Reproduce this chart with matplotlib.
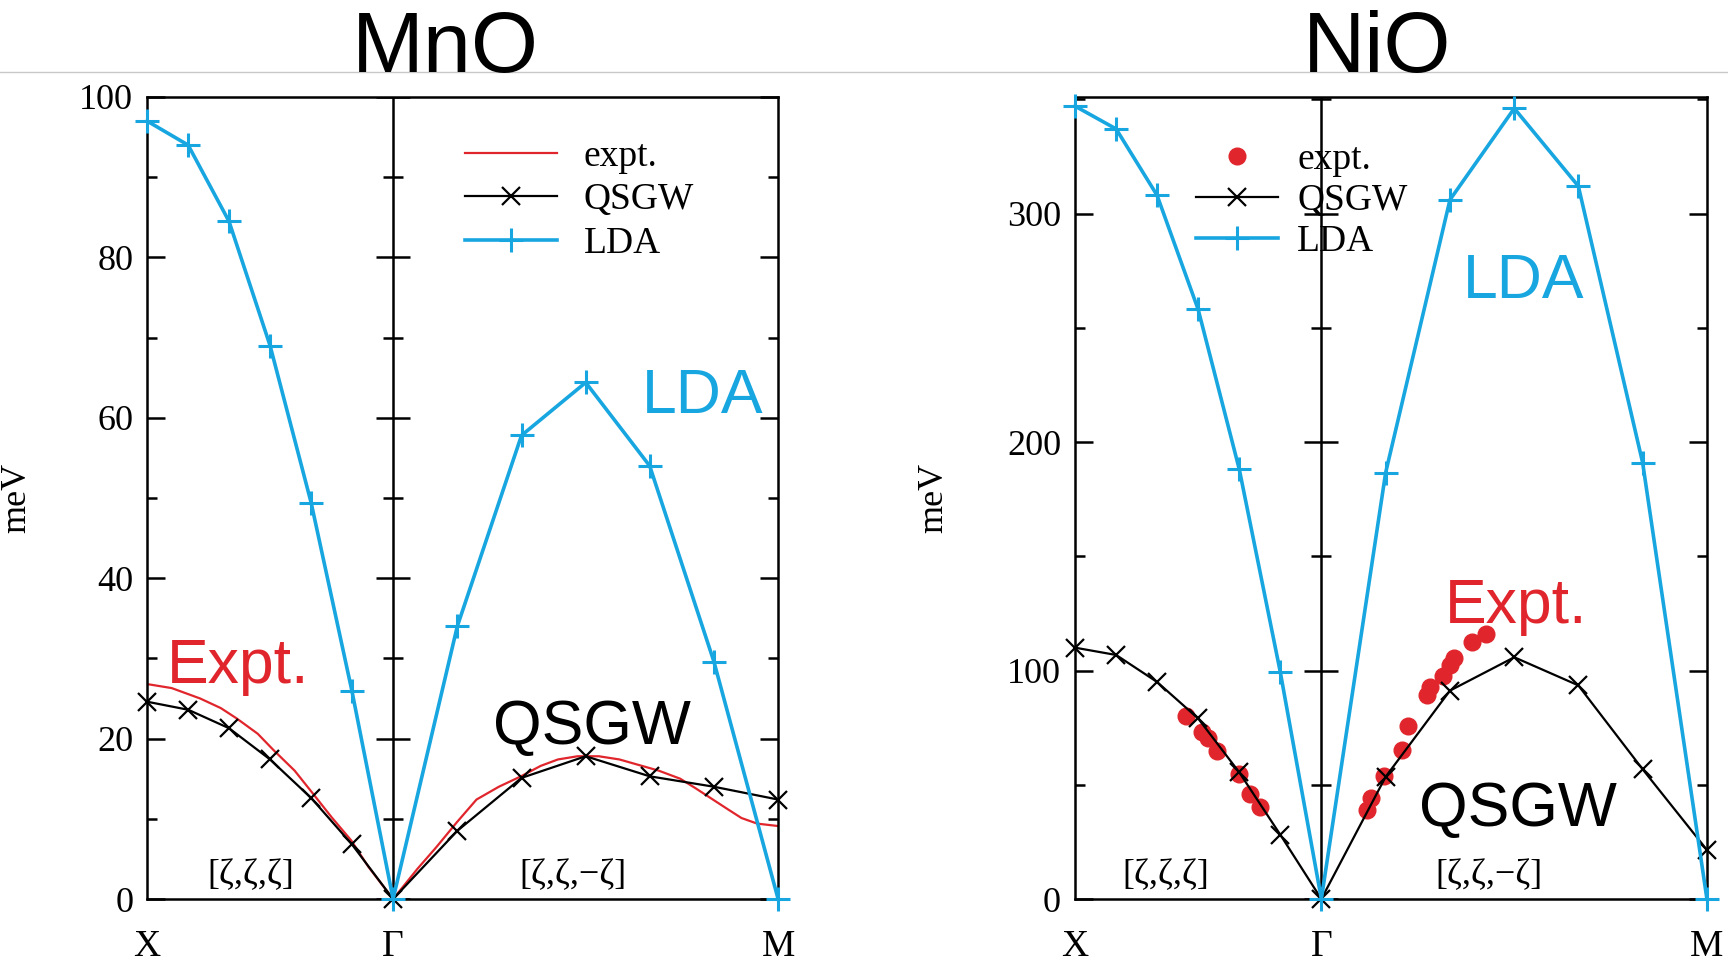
import numpy as np
import matplotlib
matplotlib.use('Agg')
import matplotlib.pyplot as plt
from matplotlib.lines import Line2D

# k-path positions: X = 0, Gamma = 1, M = 2.565
k_pts = [0.0, 0.167, 0.333, 0.5, 0.667, 0.833, 1.0, 1.261, 1.522, 1.783, 2.043, 2.304, 2.565]
k_ticks = [0.0, 1.0, 2.565]
k_labels = ['X', u'\u0393', 'M']

# MnO (meV)
mno_lda = [97, 94, 84.5, 69, 49.4, 25.9, 0, 34, 57.8, 64.4, 54, 29.6, 0]
mno_qsgw = [24.6, 23.6, 21.3, 17.4, 12.6, 6.8, 0, 8.5, 15.1, 17.8, 15.3, 14.0, 12.4]
mno_expt_k = [0, 0.1, 0.216, 0.3, 0.365, 0.45, 0.513, 0.6, 0.678, 0.75, 0.83, 0.9, 1.0,
              1.1, 1.174, 1.26, 1.339, 1.43, 1.52, 1.6, 1.67, 1.75, 1.836, 1.92, 2.0,
              2.08, 2.167, 2.23, 2.30, 2.36, 2.416, 2.48, 2.565]
mno_expt = [26.8, 26.3, 25.0, 23.8, 22.5, 20.6, 18.6, 16.0, 13.0, 10.2, 7.3, 4.0, 0,
            3.8, 6.4, 9.6, 12.4, 14.0, 15.3, 16.6, 17.4, 17.8, 17.8, 17.4, 16.7,
            16.0, 15.0, 13.8, 12.4, 11.2, 10.1, 9.4, 9.1]

# NiO (meV)
nio_lda = [347, 337, 308, 258, 188, 99.5, 0, 186.6, 306, 346, 312, 191, 0]
nio_qsgw = [110, 106.8, 95, 79, 55.4, 28.2, 0, 53.5, 91.2, 105.8, 93.5, 56.8, 21.5]
nio_expt_k = [0.45, 0.517, 0.54, 0.578, 0.667, 0.709, 0.749,
              1.187, 1.2, 1.253, 1.329, 1.351, 1.427, 1.44, 1.493, 1.524, 1.538, 1.613, 1.667]
nio_expt = [80.2, 73.3, 70.3, 64.6, 54.9, 45.8, 40.3,
            39, 44, 54, 65, 75.8, 89.5, 93, 97.4, 102.5, 105.3, 112.6, 116]

#colours
c_lda = '#17a6e0'
c_expt = '#e0262c'
serif = 'Liberation Serif'
sans = 'Liberation Sans'

plt.rcParams['font.family'] = serif
plt.rcParams['axes.linewidth'] = 1.8

fig = plt.figure(figsize=(17.28, 9.61), dpi=100)
fig.add_artist(Line2D([0, 1], [0.925, 0.925], transform=fig.transFigure, color='#c8c8c8', lw=1.0))

def setup_axes(ax, ymax, major, minor):
	ax.set_xlim(0, k_ticks[-1])
	ax.set_ylim(0, ymax)
	ax.set_xticks(k_ticks)
	ax.set_xticklabels(k_labels)
	ax.tick_params(axis='x', length=0, pad=22, labelsize=27)
	ax.set_yticks(major)
	ax.set_yticks(minor, minor=True)
	ax.tick_params(axis='y', which='both', direction='in', left=True, right=True, width=1.8, labelsize=26, pad=10)
	ax.tick_params(axis='y', which='major', length=13)
	ax.tick_params(axis='y', which='minor', length=7)
	ax.yaxis.set_minor_formatter(plt.NullFormatter())
	# vertical line at Gamma with crossing ticks
	ax.axvline(1.0, color='k', lw=1.8)
	ax.plot([1.0] * len(major), major, ls='none', marker='_', ms=25, mew=1.8, color='k')
	ax.plot([1.0] * len(minor), minor, ls='none', marker='_', ms=14, mew=1.8, color='k')
	ax.set_ylabel('meV', fontsize=26)

#==================================================================================
# MnO
ax1 = fig.add_axes([0.0851, 0.0645, 0.3652, 0.8346])
setup_axes(ax1, 100, [0, 20, 40, 60, 80, 100], [10, 30, 50, 70, 90])
ax1.yaxis.set_label_coords(-0.18, 0.5)
ax1.set_yticklabels(['0', '20', '40', '60', '80', '100'])

ax1.plot(mno_expt_k, mno_expt, color=c_expt, lw=1.6, label='expt.')
ax1.plot(k_pts, mno_qsgw, color='k', lw=1.6, marker='x', ms=13, mew=1.6, label='QSGW', clip_on=False)
ax1.plot(k_pts, mno_lda, color=c_lda, lw=2.6, marker='+', ms=17, mew=2.2, label='LDA', clip_on=False, zorder=4)

ax1.text(0.081, 26.9, 'Expt.', color=c_expt, fontsize=45, family=sans)
ax1.text(1.407, 19.3, 'QSGW', color='k', fontsize=45, family=sans)
ax1.text(2.012, 60.6, 'LDA', color=c_lda, fontsize=45, family=sans)
ax1.text(0.423, 2.9, u'[\u03b6,\u03b6,\u03b6]', fontsize=26, ha='center', va='center')
ax1.text(1.732, 2.9, u'[\u03b6,\u03b6,\u2212\u03b6]', fontsize=26, ha='center', va='center')

ax1.legend(loc='upper left', bbox_to_anchor=(0.269, 0.855), bbox_transform=fig.transFigure,
	frameon=False, fontsize=27, handlelength=2.45, handletextpad=0.72, labelspacing=0.24,
	borderpad=0, borderaxespad=0)

fig.text(0.258, 0.925, 'MnO', fontsize=62, family=sans, ha='center', va='baseline')

#==================================================================================
# NiO
ax2 = fig.add_axes([0.6221, 0.0645, 0.3657, 0.8346])
setup_axes(ax2, 351, [0, 100, 200, 300], [50, 150, 250, 350])
ax2.yaxis.set_label_coords(-0.198, 0.5)

ax2.plot(nio_expt_k, nio_expt, ls='none', marker='o', ms=12, color=c_expt, mec=c_expt, label='expt.', zorder=2)
ax2.plot(k_pts, nio_qsgw, color='k', lw=1.6, marker='x', ms=13, mew=1.6, label='QSGW', clip_on=False, zorder=3)
ax2.plot(k_pts, nio_lda, color=c_lda, lw=2.6, marker='+', ms=17, mew=2.2, label='LDA', clip_on=False, zorder=4)

ax2.text(1.573, 263, 'LDA', color=c_lda, fontsize=45, family=sans)
ax2.text(1.5, 120.8, 'Expt.', color=c_expt, fontsize=45, family=sans)
ax2.text(1.398, 32, 'QSGW', color='k', fontsize=45, family=sans)
ax2.text(0.37, 10.3, u'[\u03b6,\u03b6,\u03b6]', fontsize=26, ha='center', va='center')
ax2.text(1.679, 10.3, u'[\u03b6,\u03b6,\u2212\u03b6]', fontsize=26, ha='center', va='center')

ax2.legend(loc='upper left', bbox_to_anchor=(0.692, 0.852), bbox_transform=fig.transFigure,
	frameon=False, fontsize=27, handlelength=2.2, handletextpad=0.5, labelspacing=0.18,
	borderpad=0, borderaxespad=0)

fig.text(0.797, 0.925, 'NiO', fontsize=62, family=sans, ha='center', va='baseline')

fig.savefig('out.png', dpi=100)
